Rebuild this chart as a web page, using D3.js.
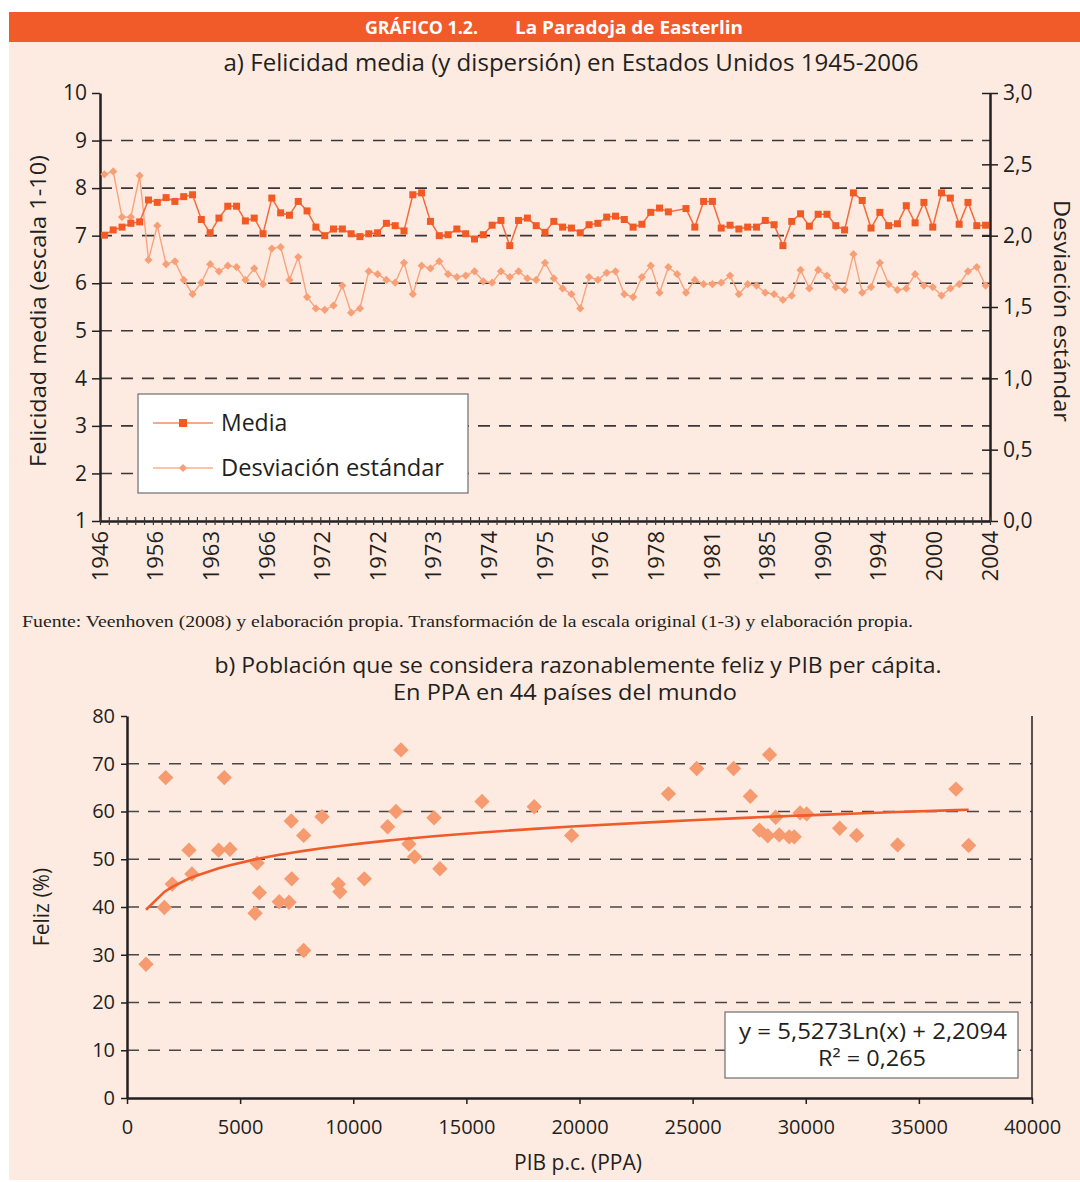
<!DOCTYPE html>
<html>
<head>
<meta charset="utf-8">
<script src="https://cdn.jsdelivr.net/npm/d3@7"></script>
<style>
  body { margin: 0; background: #fff; }
  text { font-family: 'Open Sans', 'Noto Sans', sans-serif; fill: #231f20; }
</style>
</head>
<body>
<div id="graf"></div>
<script>
// datos grafico a) (media en escala 1-10, desviacion en escala 0-3)
const mediaValues = [
  7.01, 7.12, 7.18, 7.26, 7.29, 7.75, 7.70, 7.80, 7.72, 7.82,
  7.86, 7.34, 7.06, 7.37, 7.62, 7.62, 7.31, 7.37, 7.04, 7.79,
  7.48, 7.43, 7.72, 7.52, 7.18, 7.00, 7.14, 7.14, 7.04, 6.98,
  7.04, 7.06, 7.26, 7.21, 7.10, 7.86, 7.90, 7.30, 7.00, 7.02,
  7.14, 7.04, 6.93, 7.02, 7.22, 7.32, 6.79, 7.32, 7.37, 7.21,
  7.07, 7.30, 7.18, 7.16, 7.06, 7.23, 7.26, 7.39, 7.41, 7.34,
  7.18, 7.24, 7.49, 7.58, 7.50, null, 7.57, 7.18, 7.72, 7.72,
  7.16, 7.22, 7.14, 7.18, 7.18, 7.32, 7.23, 6.79, 7.30, 7.46,
  7.20, 7.45, 7.45, 7.21, 7.12, 7.90, 7.74, 7.16, 7.49, 7.21,
  7.25, 7.63, 7.27, 7.70, 7.18, 7.90, 7.79, 7.24, 7.70, 7.21,
  7.22
]
const sdValues = [
  2.43, 2.45, 2.13, 2.13, 2.42, 1.83, 2.07, 1.80, 1.82, 1.69,
  1.59, 1.67, 1.80, 1.75, 1.79, 1.78, 1.69, 1.77, 1.66, 1.91,
  1.92, 1.69, 1.85, 1.57, 1.49, 1.48, 1.51, 1.65, 1.46, 1.49,
  1.75, 1.73, 1.69, 1.67, 1.81, 1.59, 1.79, 1.77, 1.82, 1.73,
  1.71, 1.72, 1.75, 1.68, 1.67, 1.75, 1.71, 1.75, 1.70, 1.69,
  1.81, 1.70, 1.63, 1.59, 1.49, 1.71, 1.69, 1.74, 1.75, 1.59,
  1.57, 1.71, 1.79, 1.60, 1.78, 1.73, 1.60, 1.69, 1.66, 1.66,
  1.67, 1.72, 1.59, 1.66, 1.65, 1.60, 1.59, 1.55, 1.58, 1.76,
  1.63, 1.76, 1.72, 1.64, 1.62, 1.87, 1.60, 1.64, 1.81, 1.66,
  1.62, 1.63, 1.73, 1.65, 1.64, 1.58, 1.63, 1.66, 1.75, 1.78,
  1.65
]
const yearLabels = ['1946', '1956', '1963', '1966', '1972', '1972', '1973', '1974', '1975',
                    '1976', '1978', '1981', '1985', '1990', '1994', '2000', '2004']
const leftTicks = [1, 2, 3, 4, 5, 6, 7, 8, 9, 10]
const rightTicks = [0, 0.5, 1, 1.5, 2, 2.5, 3]

// datos grafico b) PIB p.c. (PPA) y % feliz
const pibValues = [
  840, 1710, 1650, 2000, 2740, 2870, 4050, 4300, 4550, 5660,
  5750, 5850, 6730, 7160, 7260, 7280, 7810, 7810, 8620, 9340,
  9410, 10490, 11520, 11890, 12110, 12460, 12710, 13570, 13830, 15690,
  18000, 19650, 23930, 25180, 26810, 27550, 28400, 28670, 27950, 28320,
  28830, 29270, 29490, 29750, 30040, 31500, 32250, 34060, 36640, 37200
]
const felizValues = [
  28.0, 67.1, 39.9, 44.8, 51.9, 46.9, 51.9, 67.1, 52.1, 38.7,
  49.2, 43.0, 41.1, 41.0, 58.0, 45.9, 55.0, 30.9, 58.9, 44.8,
  43.2, 45.9, 56.8, 60.0, 72.9, 53.2, 50.5, 58.7, 48.0, 62.1,
  61.0, 55.0, 63.7, 69.0, 69.0, 63.2, 71.9, 58.8, 56.1, 54.9,
  55.1, 54.7, 54.7, 59.7, 59.5, 56.5, 55.0, 53.0, 64.7, 52.9
]
const pibTicks = [0, 5000, 10000, 15000, 20000, 25000, 30000, 35000, 40000]
const felizTicks = [0, 10, 20, 30, 40, 50, 60, 70, 80]
// linea de tendencia: y = a Ln(x) + b
const trendA = 5.5273
const trendB = 2.2094

const coma = d => d.toFixed(1).replace('.', ',')
const naranja = '#f15a29'
const salmon = '#f59b6f'

// svg base
const svg = d3.select('#graf').append('svg')
  .attr('width', 1080)
  .attr('height', 1182)

svg.append('rect').attr('x', 9).attr('y', 42).attr('width', 1071).attr('height', 1138).attr('fill', '#fdebe1')
svg.append('rect').attr('x', 9).attr('y', 12).attr('width', 1071).attr('height', 30).attr('fill', naranja)

svg.append('text').attr('x', 365).attr('y', 33.5).attr('textLength', 113).attr('lengthAdjust', 'spacingAndGlyphs')
  .style('font-weight', 'bold').style('font-size', '18px').style('fill', '#fff').text('GRÁFICO 1.2.')
svg.append('text').attr('x', 515).attr('y', 33.5).attr('textLength', 228).attr('lengthAdjust', 'spacingAndGlyphs')
  .style('font-weight', 'bold').style('font-size', '18px').style('fill', '#fff').text('La Paradoja de Easterlin')

// ---------- grafico a) ----------
const yL = d3.scaleLinear().domain([1, 10]).range([521, 93])
const yR = d3.scaleLinear().domain([0, 3]).range([521, 93])
const xI = d3.scaleLinear().domain([0, mediaValues.length]).range([100, 990])

svg.append('text').attr('x', 571).attr('y', 71).attr('text-anchor', 'middle')
  .attr('textLength', 695).attr('lengthAdjust', 'spacingAndGlyphs')
  .style('font-size', '23px').text('a)  Felicidad media (y dispersión) en Estados Unidos 1945-2006')

// lineas de grilla
svg.append('g').selectAll('line')
  .data(leftTicks.filter(d => d > 1 && d < 10))
  .enter().append('line')
    .attr('x1', 100).attr('x2', 990)
    .attr('y1', d => yL(d)).attr('y2', d => yL(d))
    .attr('stroke', '#3b3637').attr('stroke-width', 1.6).attr('stroke-dasharray', '12,9')

// ejes
const ejeIzq = svg.append('g').attr('transform', 'translate(100,0)')
  .call(d3.axisLeft(yL).tickValues(leftTicks).tickSize(8).tickSizeOuter(0).tickPadding(5))
const ejeDer = svg.append('g').attr('transform', 'translate(990,0)')
  .call(d3.axisRight(yR).tickValues(rightTicks).tickSize(8).tickSizeOuter(0).tickPadding(5).tickFormat(coma))
ejeDer.selectAll('.tick line').attr('x1', -8)
const ejeX = svg.append('g').attr('transform', 'translate(0,521)')
  .call(d3.axisBottom(xI).tickValues(d3.range(0, mediaValues.length + 1)).tickSize(4).tickSizeOuter(0).tickFormat(''))
ejeX.selectAll('.tick line').attr('y1', -4)

;[ejeIzq, ejeDer, ejeX].forEach(g => {
  g.select('.domain').attr('stroke', '#231f20').attr('stroke-width', 2.5)
  g.selectAll('.tick line').attr('stroke', '#231f20').attr('stroke-width', 1.5)
  g.selectAll('text').style('font-size', '21px').style('font-family', "'Open Sans', sans-serif").attr('fill', '#231f20')
})
ejeX.selectAll('.tick line').attr('stroke', '#3b3637').attr('stroke-width', 1.2)

// etiquetas de anios (rotadas)
svg.append('g').selectAll('text')
  .data(yearLabels)
  .enter().append('text')
    .attr('transform', (d, i) => `translate(${ xI(i * mediaValues.length / (yearLabels.length - 1)) }, 531) rotate(-90)`)
    .attr('text-anchor', 'end').attr('dy', '0.35em')
    .style('font-size', '22px').text(d => d)

// titulos de ejes
svg.append('text').attr('transform', 'translate(38,311) rotate(-90)').attr('text-anchor', 'middle').attr('dy', '0.35em')
  .attr('textLength', 312).attr('lengthAdjust', 'spacingAndGlyphs')
  .style('font-size', '22px').text('Felicidad media (escala 1-10)')
svg.append('text').attr('transform', 'translate(1062,311) rotate(90)').attr('text-anchor', 'middle').attr('dy', '0.35em')
  .attr('textLength', 222).attr('lengthAdjust', 'spacingAndGlyphs')
  .style('font-size', '22px').text('Desviación estándar')

// series
const mediaPts = mediaValues.map((v, i) => ({ i: i, v: v })).filter(d => d.v !== null)
const sdPts = sdValues.map((v, i) => ({ i: i, v: v }))

svg.append('path').datum(sdPts)
  .attr('d', d3.line().x(d => xI(d.i + 0.5)).y(d => yR(d.v)))
  .attr('fill', 'none').attr('stroke', '#f8a37c').attr('stroke-width', 1.4)
svg.append('g').selectAll('path')
  .data(sdPts)
  .enter().append('path')
    .attr('d', d3.symbol(d3.symbolSquare, 34)())
    .attr('transform', d => `translate(${ xI(d.i + 0.5) },${ yR(d.v) }) rotate(45)`)
    .attr('fill', '#f7a077')

svg.append('path').datum(mediaPts)
  .attr('d', d3.line().x(d => xI(d.i + 0.5)).y(d => yL(d.v)))
  .attr('fill', 'none').attr('stroke', '#f36a3c').attr('stroke-width', 1.5)
svg.append('g').selectAll('rect')
  .data(mediaPts)
  .enter().append('rect')
    .attr('x', d => xI(d.i + 0.5) - 3.5).attr('y', d => yL(d.v) - 3.5)
    .attr('width', 7).attr('height', 7)
    .attr('fill', '#f15a24')

// leyenda
const ley = svg.append('g')
ley.append('rect').attr('x', 138).attr('y', 394).attr('width', 330).attr('height', 99)
  .attr('fill', '#fff').attr('stroke', '#6d6e71').attr('stroke-width', 1.2)
ley.append('line').attr('x1', 153).attr('x2', 213).attr('y1', 423).attr('y2', 423).attr('stroke', '#f58c62').attr('stroke-width', 1.5)
ley.append('rect').attr('x', 179).attr('y', 419).attr('width', 8).attr('height', 8).attr('fill', '#f15a24')
ley.append('text').attr('x', 221).attr('y', 431).style('font-size', '23px').text('Media')
ley.append('line').attr('x1', 153).attr('x2', 213).attr('y1', 468).attr('y2', 468).attr('stroke', '#f9b08c').attr('stroke-width', 1.5)
ley.append('path').attr('d', d3.symbol(d3.symbolSquare, 34)()).attr('transform', 'translate(183,468) rotate(45)').attr('fill', '#f7a077')
ley.append('text').attr('x', 221).attr('y', 476).attr('textLength', 223).attr('lengthAdjust', 'spacingAndGlyphs')
  .style('font-size', '23px').text('Desviación estándar')

// fuente
svg.append('text').attr('x', 22).attr('y', 627).attr('textLength', 891).attr('lengthAdjust', 'spacingAndGlyphs')
  .style('font-family', "'Liberation Serif', 'DejaVu Serif', serif").style('font-size', '16px')
  .text('Fuente: Veenhoven (2008) y elaboración propia. Transformación de la escala original (1-3) y elaboración propia.')

// ---------- grafico b) ----------
const xP = d3.scaleLinear().domain([0, 40000]).range([127, 1032])
const yF = d3.scaleLinear().domain([0, 80]).range([1098, 716])

svg.append('text').attr('x', 578).attr('y', 673).attr('text-anchor', 'middle')
  .attr('textLength', 727).attr('lengthAdjust', 'spacingAndGlyphs')
  .style('font-size', '22px').text('b)  Población que se considera razonablemente feliz y PIB per cápita.')
svg.append('text').attr('x', 565).attr('y', 700).attr('text-anchor', 'middle')
  .attr('textLength', 344).attr('lengthAdjust', 'spacingAndGlyphs')
  .style('font-size', '22px').text('En PPA en 44 países del mundo')

svg.append('g').selectAll('line')
  .data(felizTicks.filter(d => d > 0 && d < 80))
  .enter().append('line')
    .attr('x1', 127).attr('x2', 1032)
    .attr('y1', d => yF(d)).attr('y2', d => yF(d))
    .attr('stroke', '#4a4546').attr('stroke-width', 1.6).attr('stroke-dasharray', '12,9')

svg.append('line').attr('x1', 1032).attr('x2', 1032).attr('y1', 716).attr('y2', 1098)
  .attr('stroke', '#231f20').attr('stroke-width', 1.5)

const ejeF = svg.append('g').attr('transform', 'translate(127,0)')
  .call(d3.axisLeft(yF).tickValues(felizTicks).tickSize(6).tickSizeOuter(0).tickPadding(6))
const ejeP = svg.append('g').attr('transform', 'translate(0,1098)')
  .call(d3.axisBottom(xP).tickValues(pibTicks).tickSize(6).tickSizeOuter(0).tickPadding(16).tickFormat(d => d))
;[ejeF, ejeP].forEach(g => {
  g.select('.domain').attr('stroke', '#231f20').attr('stroke-width', 2.5)
  g.selectAll('.tick line').attr('stroke', '#231f20').attr('stroke-width', 1.5)
  g.selectAll('text').style('font-size', '20px').style('font-family', "'Open Sans', sans-serif").attr('fill', '#231f20')
})

svg.append('text').attr('transform', 'translate(42,907) rotate(-90)').attr('text-anchor', 'middle').attr('dy', '0.35em')
  .style('font-size', '21px').text('Feliz (%)')
svg.append('text').attr('x', 578).attr('y', 1170).attr('text-anchor', 'middle')
  .style('font-size', '21px').text('PIB p.c. (PPA)')

// puntos
const paises = pibValues.map((p, i) => ({ pib: p, feliz: felizValues[i] }))
svg.append('g').selectAll('path')
  .data(paises)
  .enter().append('path')
    .attr('d', d3.symbol(d3.symbolSquare, 118)())
    .attr('transform', d => `translate(${ xP(d.pib) },${ yF(d.feliz) }) rotate(45)`)
    .attr('fill', salmon)

// tendencia logaritmica
const tendencia = pibValues.slice().sort(d3.ascending).map(p => ({ pib: p, feliz: trendA * Math.log(p) + trendB }))
svg.append('path').datum(tendencia)
  .attr('d', d3.line().x(d => xP(d.pib)).y(d => yF(d.feliz)))
  .attr('fill', 'none').attr('stroke', naranja).attr('stroke-width', 2.6)

// cuadro de ecuacion
svg.append('rect').attr('x', 725).attr('y', 1012).attr('width', 293).attr('height', 66)
  .attr('fill', '#fff').attr('stroke', '#6d6e71').attr('stroke-width', 1.2)
svg.append('text').attr('x', 873).attr('y', 1039).attr('text-anchor', 'middle')
  .attr('textLength', 268).attr('lengthAdjust', 'spacingAndGlyphs')
  .style('font-size', '21px').text('y = 5,5273Ln(x) + 2,2094')
svg.append('text').attr('x', 872).attr('y', 1066).attr('text-anchor', 'middle')
  .attr('textLength', 108).attr('lengthAdjust', 'spacingAndGlyphs')
  .style('font-size', '21px').text('R² = 0,265')
</script>
</body>
</html>
